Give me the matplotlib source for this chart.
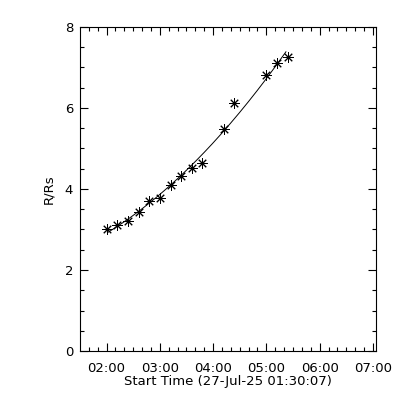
import matplotlib
matplotlib.use('Agg')
import matplotlib.pyplot as plt
import numpy as np

plt.rcParams.update({'font.size': 9.5, 'font.family': 'DejaVu Sans'})

# start time of the plot: 27-Jul-25 01:30:07
start_label = 'Start Time (27-Jul-25 01:30:07)'
# observation times (hh:mm) and heights in solar radii
times = ['02:01', '02:12', '02:24', '02:36', '02:48', '03:00', '03:13', '03:24',
         '03:36', '03:48', '04:12', '04:24', '05:00', '05:12', '05:24']
heights = [3.01, 3.10, 3.21, 3.42, 3.70, 3.79, 4.09, 4.32,
           4.51, 4.63, 5.48, 6.12, 6.81, 7.10, 7.25]

t0 = 1.5 + 7 / 3600.0  # 01:30:07 in hours


def to_sec(s):
    h, m = s.split(':')
    return (int(h) + int(m) / 60.0 - t0) * 3600.0


x = np.array([to_sec(s) for s in times])
y = np.array(heights)

# second order fit through the points
coef = np.polyfit(x, y, 2)
xf = np.linspace(x[0], x[-1] - 120, 200)
yf = np.polyval(coef, xf)

fig = plt.figure(figsize=(4, 4), dpi=100)
ax = fig.add_axes([0.2, 0.1225, 0.74, 0.81])

ax.plot(xf, yf, 'k-', lw=0.7)
ax.plot(x, y, linestyle='none', marker=(8, 2, 0), markersize=7.5, color='k', mew=0.7)

ax.set_xlim(0, 20000)
ax.set_ylim(0, 8)

hour_ticks = ['02:00', '03:00', '04:00', '05:00', '06:00', '07:00']
ax.set_xticks([to_sec(s) for s in hour_ticks])
ax.set_xticklabels(hour_ticks)
ax.set_xticks([to_sec('02:00') + (k - 3) * 600 for k in range(0, 34) if (k - 3) % 6 != 0
               and 0 <= to_sec('02:00') + (k - 3) * 600 <= 20000], minor=True)
ax.set_yticks([0, 2, 4, 6, 8])
ax.set_yticks(np.arange(0, 8.01, 0.5), minor=True)

ax.tick_params(which='both', direction='in', top=True, right=True, width=0.8)
ax.tick_params(which='major', length=6)
ax.tick_params(which='minor', length=3)
ax.tick_params(axis='x', which='major', pad=8)
ax.tick_params(axis='y', which='major', pad=5)
for sp in ax.spines.values():
    sp.set_linewidth(0.8)

ax.set_xlabel(start_label, labelpad=0)
ax.set_ylabel('R/Rs', labelpad=7)

fig.savefig('out.png', dpi=100)
